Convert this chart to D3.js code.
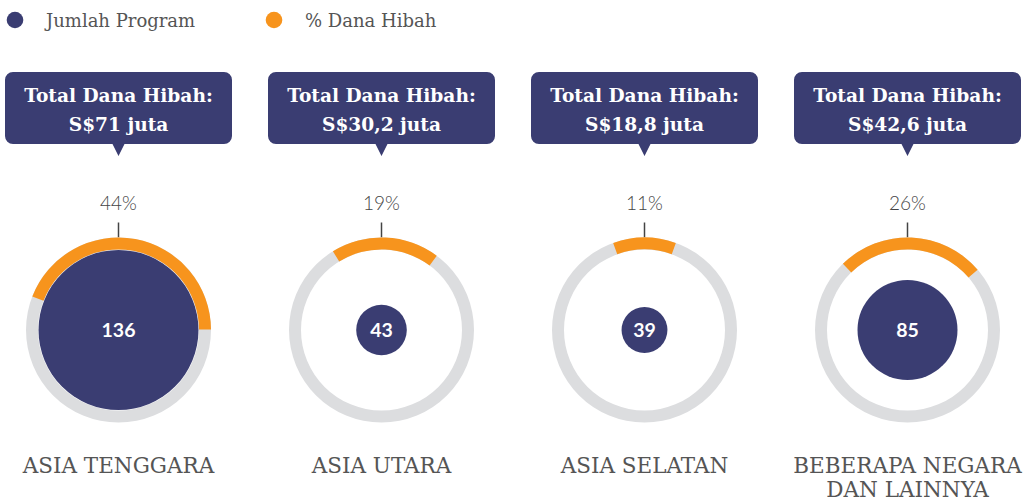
<!DOCTYPE html>
<html>
<head>
<meta charset="utf-8">
<script src="https://cdn.jsdelivr.net/npm/d3@7"></script>
<style>
  body { margin: 0; background: #fff; }
  svg { display: block; }
</style>
</head>
<body>
<svg id="chart" width="1026" height="502"></svg>
<script>
// data
var regions = ["ASIA TENGGARA", "ASIA UTARA", "ASIA SELATAN", "BEBERAPA NEGARA|DAN LAINNYA"];
var programs = [136, 43, 39, 85];
var grantShare = [44, 19, 11, 26];
var grantTotal = ["S$71 juta", "S$30,2 juta", "S$18,8 juta", "S$42,6 juta"];
var legendLabels = ["Jumlah Program", "% Dana Hibah"];

var navy = "#3a3d72", orange = "#f7941d", ringGrey = "#dcdddf", textGrey = "#555";
// small rotation of each orange arc (degrees), as in the original artwork
var arcTilt = [10.5, 2.5, 0, 2.5];

var svg = d3.select("#chart");
var width = 1026, height = 502;
var cy = 330;

var x = d3.scalePoint().domain(d3.range(regions.length)).range([118.5, 907.5]);
var r = d3.scaleLinear().domain([0, 136]).range([0, 80]);
var angle = d3.scaleLinear().domain([0, 100]).range([0, 2 * Math.PI]);

// legend
var legend = svg.append("g").attr("class", "legend");
[navy, orange].forEach(function(c, i) {
  var lx = i == 0 ? 15 : 274;
  legend.append("circle").attr("cx", lx).attr("cy", 20).attr("r", 8.3).style("fill", c);
  legend.append("text")
    .attr("x", lx + 31)
    .attr("y", 26.5)
    .style("font-family", "'DejaVu Serif', serif")
    .style("font-size", "18px")
    .style("fill", textGrey)
    .text(legendLabels[i]);
});

var ring = d3.arc().innerRadius(80.5).outerRadius(92.5);

var panel = svg.selectAll("g.panel")
  .data(regions)
  .enter()
  .append("g")
    .attr("class", "panel")
    .attr("transform", function(d, i) { return "translate(" + x(i) + ",0)"; });

// callout box
panel.append("path")
  .attr("d", function() {
    var w = 227, h = 72, top = 72, rr = 8, left = -w / 2;
    var p = d3.path();
    p.moveTo(left + rr, top);
    p.lineTo(left + w - rr, top);
    p.arcTo(left + w, top, left + w, top + rr, rr);
    p.lineTo(left + w, top + h - rr);
    p.arcTo(left + w, top + h, left + w - rr, top + h, rr);
    p.lineTo(6, top + h);
    p.lineTo(0, top + h + 12);
    p.lineTo(-6, top + h);
    p.lineTo(left + rr, top + h);
    p.arcTo(left, top + h, left, top + h - rr, rr);
    p.lineTo(left, top + rr);
    p.arcTo(left, top, left + rr, top, rr);
    p.closePath();
    return p.toString();
  })
  .style("fill", navy);

panel.append("text")
  .attr("text-anchor", "middle")
  .attr("y", 102)
  .style("font-family", "'DejaVu Serif', serif")
  .style("font-weight", "bold")
  .style("font-size", "18.6px")
  .style("fill", "#fff")
  .text("Total Dana Hibah:");

panel.append("text")
  .attr("text-anchor", "middle")
  .attr("y", 130.5)
  .style("font-family", "'DejaVu Serif', serif")
  .style("font-weight", "bold")
  .style("font-size", "18.6px")
  .style("fill", "#fff")
  .text(function(d, i) { return grantTotal[i]; });

// percent label + tick
panel.append("text")
  .attr("text-anchor", "middle")
  .attr("y", 210)
  .style("font-family", "Lato, sans-serif")
  .style("font-weight", 300)
  .style("font-size", "19px")
  .style("fill", "#444")
  .text(function(d, i) { return grantShare[i] + "%"; });

panel.append("line")
  .attr("x1", 0).attr("x2", 0)
  .attr("y1", 222.5).attr("y2", cy - 92.5)
  .style("stroke", "#444")
  .style("stroke-width", 1.5);

// grey ring
panel.append("path")
  .attr("transform", "translate(0," + cy + ")")
  .attr("d", ring({ startAngle: 0, endAngle: 2 * Math.PI }))
  .style("fill", ringGrey);

// orange share of grants
panel.append("path")
  .attr("transform", "translate(0," + cy + ")")
  .attr("d", function(d, i) {
    var a = angle(grantShare[i]), t = arcTilt[i] * Math.PI / 180;
    return ring({ startAngle: -a / 2 + t, endAngle: a / 2 + t });
  })
  .style("fill", orange);

// number of programmes
panel.append("circle")
  .attr("cy", cy)
  .attr("r", function(d, i) { return r(programs[i]); })
  .style("fill", navy);

panel.append("text")
  .attr("text-anchor", "middle")
  .attr("y", cy + 6.5)
  .style("font-family", "Lato, sans-serif")
  .style("font-weight", "bold")
  .style("font-size", "19.5px")
  .style("fill", "#fff")
  .text(function(d, i) { return programs[i]; });

// region name
panel.append("text")
  .attr("text-anchor", "middle")
  .style("font-family", "'DejaVu Serif', serif")
  .style("font-size", "21.5px")
  .style("fill", textGrey)
  .selectAll("tspan")
  .data(function(d) { return d.split("|"); })
  .enter()
  .append("tspan")
    .attr("x", 0)
    .attr("y", function(d, j) { return 472.5 + j * 24.5; })
    .text(function(d) { return d; });
</script>
</body>
</html>
